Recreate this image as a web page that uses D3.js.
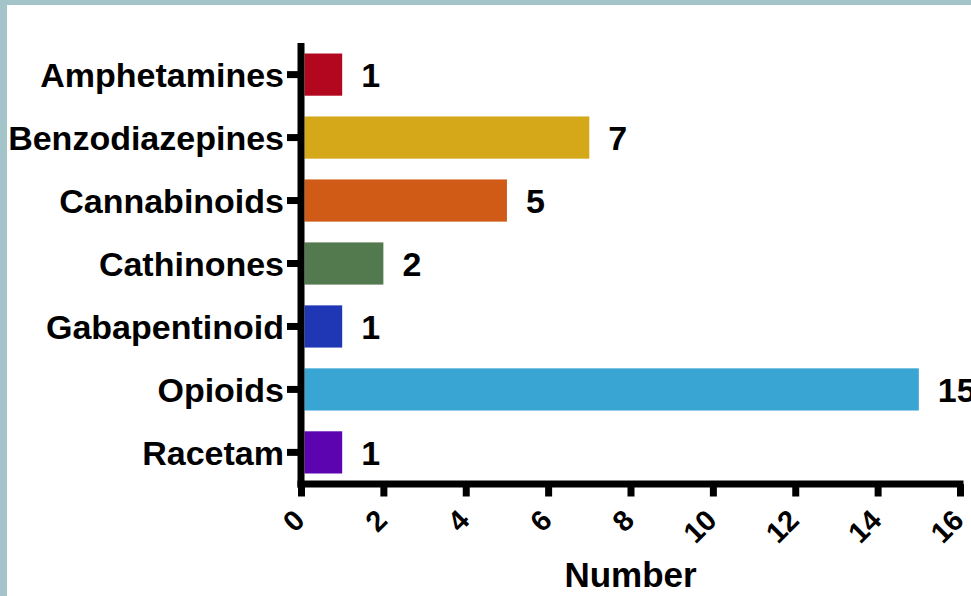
<!DOCTYPE html>
<html>
<head>
<meta charset="utf-8">
<script src="https://cdn.jsdelivr.net/npm/d3@7"></script>
<style>
  body { margin: 0; background: #a3c4c9; }
  svg { display: block; }
  text { font-family: "Liberation Sans", Arial, sans-serif; font-weight: bold; fill: #000; }
</style>
</head>
<body>
<svg id="chart" width="971" height="596"></svg>
<script>
const categories = ["Amphetamines", "Benzodiazepines", "Cannabinoids", "Cathinones", "Gabapentinoid", "Opioids", "Racetam"];
const counts = [1, 7, 5, 2, 1, 15, 1];
const barColors = ["#b3061f", "#d4a819", "#cf5b16", "#527a4e", "#1f37b5", "#39a5d3", "#5b04b0"];
const xTicks = [0, 2, 4, 6, 8, 10, 12, 14, 16];
const xTitle = "Number";

const data = categories.map((c, i) => ({ name: c, value: counts[i], color: barColors[i] }));

const svg = d3.select("#chart");

// white panel inside the border
svg.append("rect")
  .attr("x", 7).attr("y", 5)
  .attr("width", 971 - 7).attr("height", 596 - 5)
  .attr("fill", "#fff");

const x = d3.scaleLinear().domain([0, 16]).range([301, 960]);
const y = d3.scaleBand()
  .domain(categories)
  .range([43, 484])
  .paddingInner(0.33)
  .paddingOuter(0.167);

// bars
svg.append("g")
  .selectAll("rect")
  .data(data)
  .join("rect")
  .attr("x", x(0) + 3.5)
  .attr("y", d => y(d.name))
  .attr("width", d => x(d.value) - x(0) - 3.5)
  .attr("height", y.bandwidth())
  .attr("fill", d => d.color);

// value labels
svg.append("g")
  .selectAll("text")
  .data(data)
  .join("text")
  .attr("x", d => x(d.value) + 19)
  .attr("y", d => y(d.name) + y.bandwidth() / 2 + 12.5)
  .style("font-size", "34px")
  .text(d => d.value);

// y axis
const yAxis = svg.append("g")
  .attr("transform", `translate(${x(0)},0)`)
  .call(d3.axisLeft(y).tickSize(14).tickPadding(3).tickSizeOuter(0));
yAxis.select(".domain").remove();
yAxis.append("line")
  .attr("x1", 0).attr("x2", 0)
  .attr("y1", 43).attr("y2", 487.5)
  .attr("stroke", "#000").attr("stroke-width", 7);
yAxis.selectAll(".tick line").attr("stroke", "#000").attr("stroke-width", 7);
yAxis.selectAll(".tick text")
  .attr("dy", null)
  .attr("y", 12.3)
  .style("font-size", "34px")
  .attr("fill", "#000");

// x axis
const xAxis = svg.append("g")
  .attr("transform", "translate(0,484)")
  .call(d3.axisBottom(x).tickValues(xTicks).tickSize(12.5).tickSizeOuter(0));
xAxis.select(".domain").remove();
xAxis.insert("line", ":first-child")
  .attr("x1", x(0) - 3.5).attr("x2", x(16) + 3.5)
  .attr("y1", 0).attr("y2", 0)
  .attr("stroke", "#000").attr("stroke-width", 7);
xAxis.selectAll(".tick line").attr("stroke", "#000").attr("stroke-width", 7);
xAxis.selectAll(".tick text")
  .attr("y", null).attr("dy", null)
  .attr("text-anchor", "end")
  .attr("transform", "translate(5,38) rotate(-45)")
  .style("font-size", "29px")
  .attr("fill", "#000");

// axis title
svg.append("text")
  .attr("x", (x(0) + x(16)) / 2)
  .attr("y", 587)
  .attr("text-anchor", "middle")
  .style("font-size", "35px")
  .text(xTitle);
</script>
</body>
</html>
